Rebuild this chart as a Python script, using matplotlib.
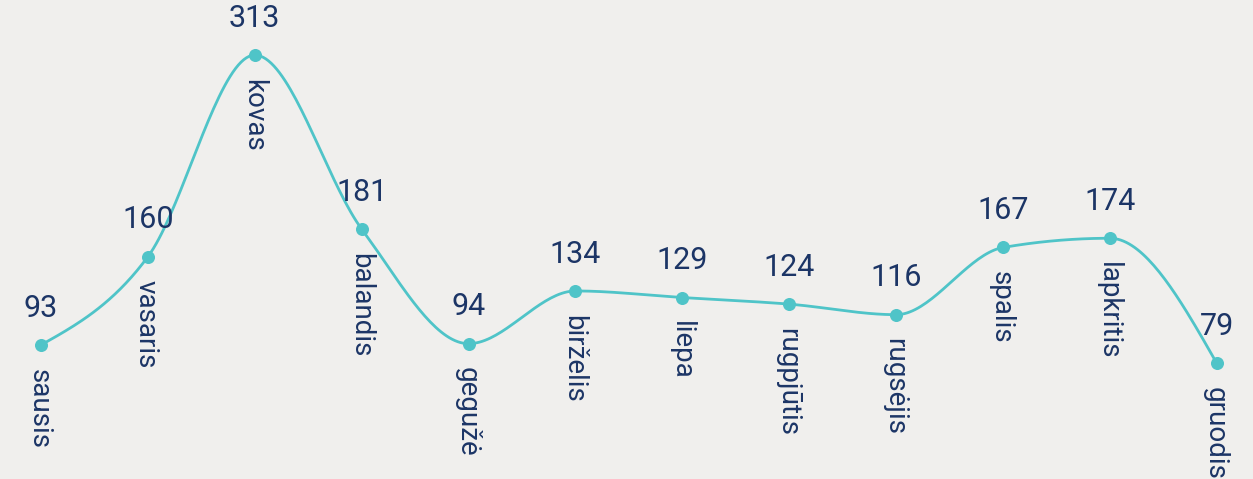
import numpy as np
import matplotlib.pyplot as plt

months = ["sausis", "vasaris", "kovas", "balandis", "gegužė", "birželis",
          "liepa", "rugpjūtis", "rugsėjis", "spalis", "lapkritis", "gruodis"]
values = [93, 160, 313, 181, 94, 134, 129, 124, 116, 167, 174, 79]

LINE = "#4fc4c8"
TEXT = "#1c3566"
BG = "#f0efed"


def monotone_path(x, y, n=40):
    # d3 curveMonotoneX style interpolation
    x = np.asarray(x, float)
    y = np.asarray(y, float)
    h = np.diff(x)
    s = np.diff(y) / h
    t = np.zeros(len(x))
    for i in range(1, len(x) - 1):
        h0, h1 = h[i - 1], h[i]
        s0, s1 = s[i - 1], s[i]
        p = (s0 * h1 + s1 * h0) / (h0 + h1)
        t[i] = (np.sign(s0) + np.sign(s1)) * min(abs(s0), abs(s1), 0.5 * abs(p))
    t[0] = (3 * s[0] - t[1]) / 2
    t[-1] = (3 * s[-1] - t[-2]) / 2
    xs, ys = [], []
    u = np.linspace(0, 1, n)
    for i in range(len(x) - 1):
        dx = h[i] / 3
        p0 = (x[i], y[i])
        p1 = (x[i] + dx, y[i] + dx * t[i])
        p2 = (x[i + 1] - dx, y[i + 1] - dx * t[i + 1])
        p3 = (x[i + 1], y[i + 1])
        for k in range(2):
            c = (1 - u) ** 3 * p0[k] + 3 * (1 - u) ** 2 * u * p1[k] \
                + 3 * (1 - u) * u ** 2 * p2[k] + u ** 3 * p3[k]
            (xs if k == 0 else ys).append(c)
    return np.concatenate(xs), np.concatenate(ys)


plt.rcParams["font.family"] = ["Roboto", "DejaVu Sans"]

fig = plt.figure(figsize=(12.53, 4.79), dpi=100, facecolor=BG)
ax = fig.add_axes([0, 0, 1, 1], facecolor=BG)

xi = np.arange(len(values))
cx, cy = monotone_path(xi, values)
ax.plot(cx, cy, color=LINE, lw=2)
ax.scatter(xi, values, s=70, color=LINE, zorder=3)

for i, (m, v) in enumerate(zip(months, values)):
    ax.annotate(str(v), (i, v), xytext=(0, 16), textcoords="offset points",
                ha="center", va="bottom", fontsize=22, color=TEXT)
    ax.annotate(m, (i, v), xytext=(-1, -17), textcoords="offset points",
                ha="center", va="top", rotation=-90, fontsize=20, color=TEXT)

ax.set_xlim(-0.3835, 11.338)
ax.set_ylim(-8.7, 354.8)
ax.axis("off")

fig.savefig("out.png", dpi=100, facecolor=BG)
